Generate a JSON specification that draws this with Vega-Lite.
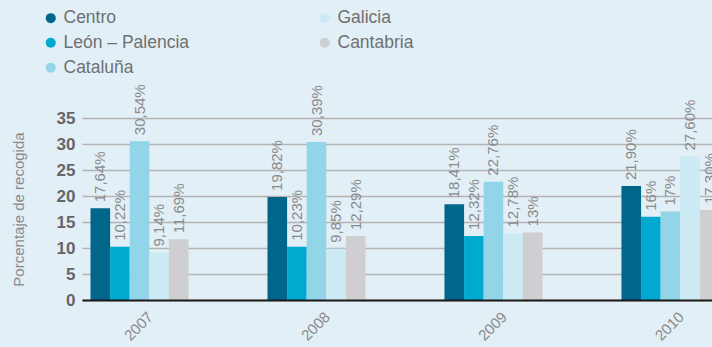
{
  "$schema": "https://vega.github.io/schema/vega-lite/v6.json",
  "width": 646,
  "height": 182,
  "autosize": {"type": "none"},
  "padding": {"left": 82, "top": 118, "right": 0, "bottom": 47},
  "background": "#E2EFF6",
  "config": {"view": {"stroke": null}, "font": "Liberation Sans"},
  "data": {
    "values": [
      {"year": "2007", "region": "Centro", "value": 17.64, "label": "17,64%"},
      {"year": "2007", "region": "León – Palencia", "value": 10.22, "label": "10,22%"},
      {"year": "2007", "region": "Cataluña", "value": 30.54, "label": "30,54%"},
      {"year": "2007", "region": "Galicia", "value": 9.14, "label": "9,14%"},
      {"year": "2007", "region": "Cantabria", "value": 11.69, "label": "11,69%"},
      {"year": "2008", "region": "Centro", "value": 19.82, "label": "19,82%"},
      {"year": "2008", "region": "León – Palencia", "value": 10.23, "label": "10,23%"},
      {"year": "2008", "region": "Cataluña", "value": 30.39, "label": "30,39%"},
      {"year": "2008", "region": "Galicia", "value": 9.85, "label": "9,85%"},
      {"year": "2008", "region": "Cantabria", "value": 12.29, "label": "12,29%"},
      {"year": "2009", "region": "Centro", "value": 18.41, "label": "18,41%"},
      {"year": "2009", "region": "León – Palencia", "value": 12.32, "label": "12,32%"},
      {"year": "2009", "region": "Cataluña", "value": 22.76, "label": "22,76%"},
      {"year": "2009", "region": "Galicia", "value": 12.78, "label": "12,78%"},
      {"year": "2009", "region": "Cantabria", "value": 13, "label": "13%"},
      {"year": "2010", "region": "Centro", "value": 21.9, "label": "21,90%"},
      {"year": "2010", "region": "León – Palencia", "value": 16, "label": "16%"},
      {"year": "2010", "region": "Cataluña", "value": 17, "label": "17%"},
      {"year": "2010", "region": "Galicia", "value": 27.6, "label": "27,60%"},
      {"year": "2010", "region": "Cantabria", "value": 17.3, "label": "17,30%"}
    ]
  },
  "encoding": {
    "x": {
      "field": "year",
      "type": "nominal",
      "scale": {"paddingInner": 0.446, "paddingOuter": 0.048},
      "axis": {
        "title": null,
        "labelAngle": -45,
        "labelFontSize": 15,
        "labelColor": "#8A8A8A",
        "ticks": false,
        "domainColor": "#1A1A1A",
        "domainWidth": 2,
        "labelPadding": 9,
        "labelOffset": 6,
        "zindex": 1
      }
    },
    "xOffset": {
      "field": "region",
      "type": "nominal",
      "scale": {
        "domain": ["Centro", "León – Palencia", "Cataluña", "Galicia", "Cantabria"],
        "paddingInner": 0,
        "paddingOuter": 0
      }
    },
    "y": {
      "field": "value",
      "type": "quantitative",
      "scale": {"domain": [0, 35]},
      "axis": {
        "title": "Porcentaje de recogida",
        "values": [0, 5, 10, 15, 20, 25, 30, 35],
        "grid": true,
        "gridColor": "#B3B3B3",
        "gridWidth": 1.5,
        "domain": false,
        "ticks": false,
        "labelFontWeight": "bold",
        "labelFontSize": 17,
        "labelColor": "#666666",
        "labelPadding": 7,
        "titleFontSize": 15,
        "titleFontWeight": "normal",
        "titleColor": "#8A8A8A",
        "titlePadding": 30
      }
    }
  },
  "layer": [
    {
      "mark": {"type": "bar"},
      "encoding": {
        "color": {
          "field": "region",
          "type": "nominal",
          "scale": {
            "domain": ["Centro", "León – Palencia", "Cataluña", "Galicia", "Cantabria"],
            "range": ["#00678A", "#00A9CF", "#93D5E8", "#CBEAF4", "#CFCFD1"]
          },
          "legend": {
            "orient": "none",
            "legendX": -40,
            "legendY": -109,
            "columns": 2,
            "columnPadding": 126,
            "rowPadding": 6,
            "symbolType": "circle",
            "symbolSize": 100,
            "symbolStrokeWidth": 0,
            "labelFontSize": 17.5,
            "labelColor": "#707070",
            "labelOffset": 4,
            "title": null
          }
        }
      }
    },
    {
      "mark": {
        "type": "text",
        "angle": -90,
        "align": "left",
        "baseline": "middle",
        "dx": 6,
        "fontSize": 15,
        "color": "#8A8A8A"
      },
      "encoding": {"text": {"field": "label"}}
    }
  ]
}
